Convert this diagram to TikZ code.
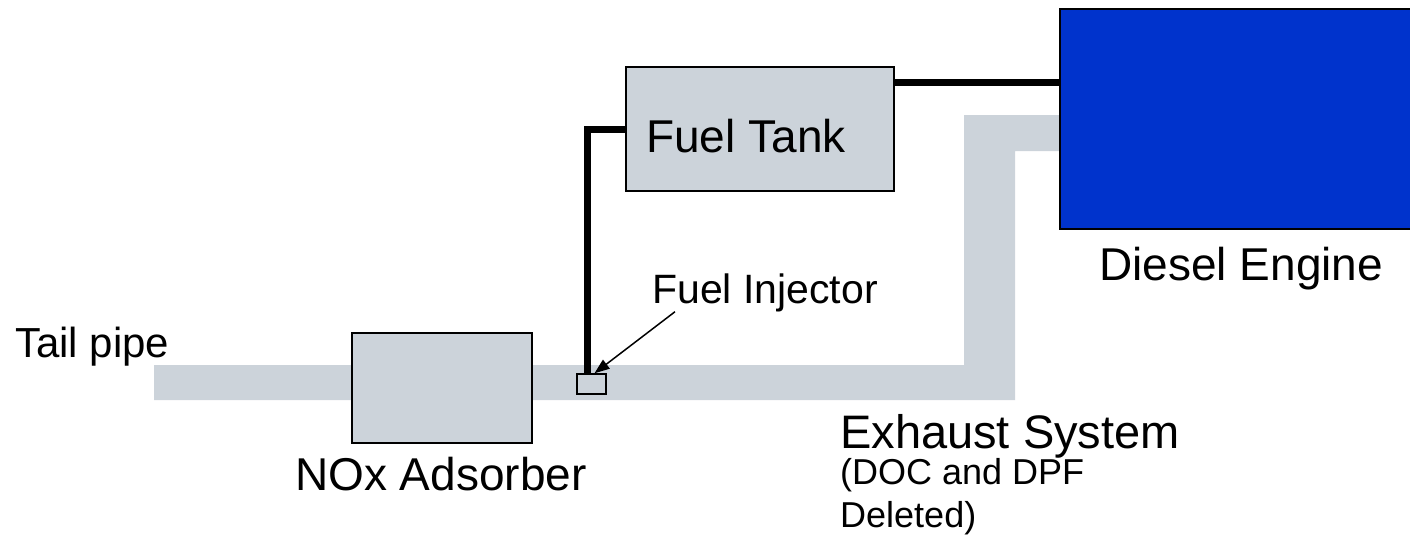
\documentclass[tikz,border=0pt]{standalone}
\usepackage{fontspec}
\setmainfont{Liberation Sans}
\usetikzlibrary{arrows.meta,positioning}

\definecolor{pipegray}{HTML}{CCD3DA}
\definecolor{engineblue}{HTML}{0033CC}

\begin{document}
\begin{tikzpicture}[x=1pt,y=-1pt,
  part/.style={draw, line width=2pt, fill=pipegray, inner sep=0pt},
  fuelline/.style={line width=7pt},
  pointer/.style={-{Triangle[length=15pt,width=11pt]}, line width=1.5pt},
  biglabel/.style={anchor=base west, inner sep=0pt, font=\fontsize{46}{55}\selectfont},
  smalllabel/.style={anchor=base west, inner sep=0pt, font=\fontsize{36}{43}\selectfont},
]
\useasboundingbox (0,0) rectangle (1410,546);
\clip (0,0) rectangle (1410,546);

% exhaust pipe
\fill[pipegray] (154,365) -- (964,365) -- (964,115) -- (1060,115) -- (1060,151)
  -- (1015,151) -- (1015,400) -- (154,400) -- cycle;

\node[part, minimum width=268pt, minimum height=124pt] (tank) at (760,129) {};
\node[part, minimum width=180pt, minimum height=110pt] (nox) at (442,388) {};
\node[part, line width=1.5pt, minimum width=29pt, minimum height=20pt] (injector) at (591.5,384) {};
\node[draw, line width=2.5pt, fill=engineblue, minimum width=380pt, minimum height=220pt] (engine) at (1250,119) {};

% fuel lines
\coordinate (fuelout) at (894,82.5);
\draw[fuelline] (fuelout) -- (fuelout -| engine.west);
\draw[fuelline] (tank.west) -| ([xshift=-4pt]injector.north);

% labels
\node[biglabel] (tanklabel) at (646,152) {Fuel Tank};
\node[biglabel] (enginelabel) at (1099,280) {Diesel Engine};
\node[biglabel] (noxlabel) at (295,490) {NOx Adsorber};
\node[biglabel, font=\fontsize{42}{50}\selectfont] (taillabel) at (15,357) {Tail pipe};
\node[biglabel, font=\fontsize{47}{56}\selectfont] (exhlabel) at (840,448) {Exhaust System};
\node[smalllabel] (doclabel) at (840,484) {(DOC and DPF};
\node[smalllabel] (deletedlabel) at (840,527) {Deleted)};
\node[biglabel, font=\fontsize{41}{49}\selectfont] (injlabel) at (652,303) {Fuel Injector};

\draw[pointer] ([xshift=23pt]injlabel.south west) -- ([xshift=3pt]injector.north);
\end{tikzpicture}
\end{document}
